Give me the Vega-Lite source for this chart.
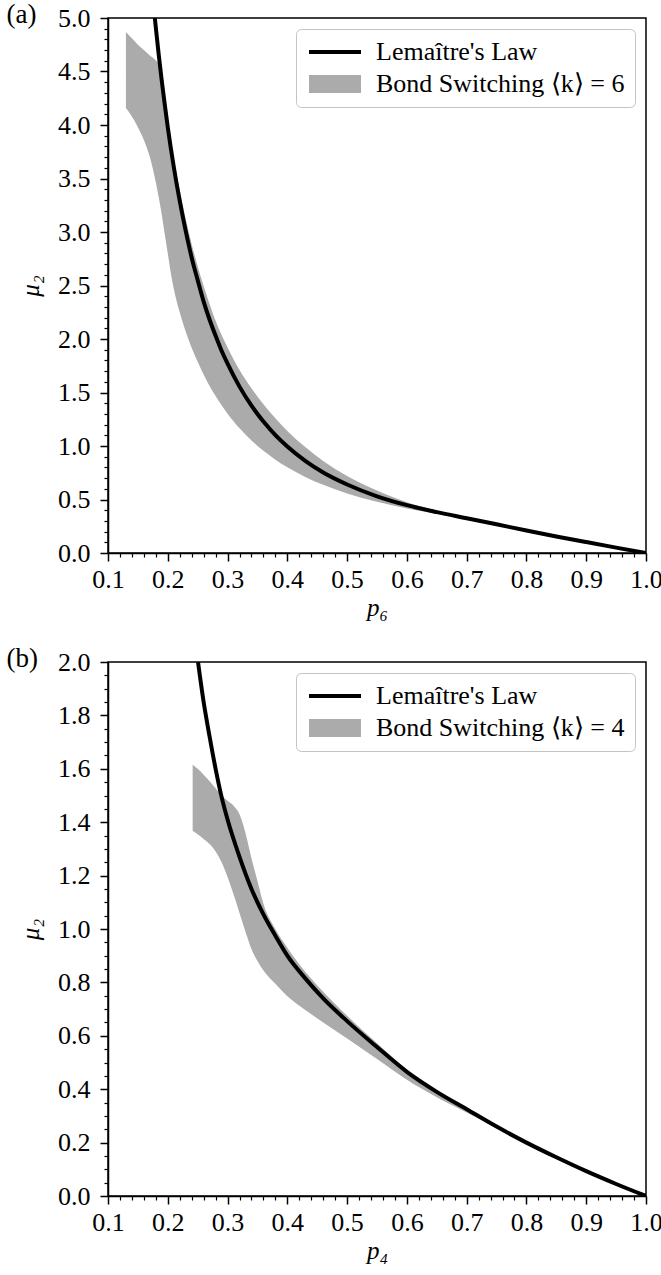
{
  "$schema": "https://vega.github.io/schema/vega-lite/v6.json",
  "background": "white",
  "padding": {"left": 5, "top": 0, "right": 0, "bottom": 0},
  "spacing": 23,
  "config": {
    "font": "Liberation Serif",
    "view": {"stroke": "black", "strokeWidth": 1.5},
    "axis": {
      "grid": false,
      "domainColor": "black",
      "domainWidth": 1.5,
      "tickColor": "black",
      "labelColor": "black",
      "titleColor": "black",
      "labelFont": "Liberation Serif",
      "titleFont": "Liberation Serif",
      "labelFontSize": 26,
      "titleFontSize": 25,
      "labelOverlap": false,
      "labelBound": false,
      "labelFlush": false
    },
    "legend": {
      "orient": "top-right", "offset": 11, "padding": 10, "fillColor": "white", "strokeColor": "#c4c4c4", "cornerRadius": 5,
      "labelFont": "Liberation Serif", "labelFontSize": 26, "labelLimit": 400, "labelColor": "black",
      "symbolSize": 400, "symbolOffset": 16, "labelOffset": 28, "rowPadding": 6, "symbolOpacity": 1, "symbolStrokeWidth": 0
    },
    "title": {"font": "Liberation Serif", "fontSize": 27, "fontWeight": "normal", "color": "black"}
  },
  "datasets": {
    "lineA": [
      {"p": 0.1784, "mu": 5.0, "s": "Lemaître's Law"},
      {"p": 0.18, "mu": 4.91, "s": "Lemaître's Law"},
      {"p": 0.185, "mu": 4.65, "s": "Lemaître's Law"},
      {"p": 0.19, "mu": 4.41, "s": "Lemaître's Law"},
      {"p": 0.195, "mu": 4.19, "s": "Lemaître's Law"},
      {"p": 0.2, "mu": 3.98, "s": "Lemaître's Law"},
      {"p": 0.21, "mu": 3.61, "s": "Lemaître's Law"},
      {"p": 0.22, "mu": 3.29, "s": "Lemaître's Law"},
      {"p": 0.23, "mu": 3.01, "s": "Lemaître's Law"},
      {"p": 0.24, "mu": 2.76, "s": "Lemaître's Law"},
      {"p": 0.25, "mu": 2.55, "s": "Lemaître's Law"},
      {"p": 0.26, "mu": 2.35, "s": "Lemaître's Law"},
      {"p": 0.27, "mu": 2.18, "s": "Lemaître's Law"},
      {"p": 0.28, "mu": 2.03, "s": "Lemaître's Law"},
      {"p": 0.29, "mu": 1.89, "s": "Lemaître's Law"},
      {"p": 0.3, "mu": 1.77, "s": "Lemaître's Law"},
      {"p": 0.32, "mu": 1.555, "s": "Lemaître's Law"},
      {"p": 0.34, "mu": 1.377, "s": "Lemaître's Law"},
      {"p": 0.36, "mu": 1.228, "s": "Lemaître's Law"},
      {"p": 0.38, "mu": 1.102, "s": "Lemaître's Law"},
      {"p": 0.4, "mu": 0.995, "s": "Lemaître's Law"},
      {"p": 0.43, "mu": 0.861, "s": "Lemaître's Law"},
      {"p": 0.46, "mu": 0.752, "s": "Lemaître's Law"},
      {"p": 0.5, "mu": 0.64, "s": "Lemaître's Law"},
      {"p": 0.55, "mu": 0.53, "s": "Lemaître's Law"},
      {"p": 0.6, "mu": 0.447, "s": "Lemaître's Law"},
      {"p": 0.65, "mu": 0.382, "s": "Lemaître's Law"},
      {"p": 0.7, "mu": 0.325, "s": "Lemaître's Law"},
      {"p": 0.75, "mu": 0.268, "s": "Lemaître's Law"},
      {"p": 0.8, "mu": 0.21, "s": "Lemaître's Law"},
      {"p": 0.85, "mu": 0.155, "s": "Lemaître's Law"},
      {"p": 0.9, "mu": 0.102, "s": "Lemaître's Law"},
      {"p": 0.95, "mu": 0.05, "s": "Lemaître's Law"},
      {"p": 1.0, "mu": 0.0, "s": "Lemaître's Law"}
    ],
    "bandA": [
      {"p": 0.13, "lo": 4.16, "hi": 4.87, "s": "Bond Switching ⟨k⟩ = 6"},
      {"p": 0.14, "lo": 4.08, "hi": 4.81, "s": "Bond Switching ⟨k⟩ = 6"},
      {"p": 0.15, "lo": 3.98, "hi": 4.75, "s": "Bond Switching ⟨k⟩ = 6"},
      {"p": 0.16, "lo": 3.86, "hi": 4.7, "s": "Bond Switching ⟨k⟩ = 6"},
      {"p": 0.17, "lo": 3.7, "hi": 4.65, "s": "Bond Switching ⟨k⟩ = 6"},
      {"p": 0.179, "lo": 3.49, "hi": 4.61, "s": "Bond Switching ⟨k⟩ = 6"},
      {"p": 0.185, "lo": 3.32, "hi": 4.56, "s": "Bond Switching ⟨k⟩ = 6"},
      {"p": 0.19, "lo": 3.16, "hi": 4.4, "s": "Bond Switching ⟨k⟩ = 6"},
      {"p": 0.195, "lo": 2.98, "hi": 4.2, "s": "Bond Switching ⟨k⟩ = 6"},
      {"p": 0.2, "lo": 2.8, "hi": 4.02, "s": "Bond Switching ⟨k⟩ = 6"},
      {"p": 0.205, "lo": 2.62, "hi": 3.85, "s": "Bond Switching ⟨k⟩ = 6"},
      {"p": 0.21, "lo": 2.47, "hi": 3.68, "s": "Bond Switching ⟨k⟩ = 6"},
      {"p": 0.22, "lo": 2.25, "hi": 3.39, "s": "Bond Switching ⟨k⟩ = 6"},
      {"p": 0.235, "lo": 1.99, "hi": 3.0, "s": "Bond Switching ⟨k⟩ = 6"},
      {"p": 0.25, "lo": 1.787, "hi": 2.68, "s": "Bond Switching ⟨k⟩ = 6"},
      {"p": 0.265, "lo": 1.613, "hi": 2.41, "s": "Bond Switching ⟨k⟩ = 6"},
      {"p": 0.28, "lo": 1.467, "hi": 2.17, "s": "Bond Switching ⟨k⟩ = 6"},
      {"p": 0.3, "lo": 1.302, "hi": 1.92, "s": "Bond Switching ⟨k⟩ = 6"},
      {"p": 0.32, "lo": 1.166, "hi": 1.71, "s": "Bond Switching ⟨k⟩ = 6"},
      {"p": 0.34, "lo": 1.052, "hi": 1.54, "s": "Bond Switching ⟨k⟩ = 6"},
      {"p": 0.36, "lo": 0.955, "hi": 1.39, "s": "Bond Switching ⟨k⟩ = 6"},
      {"p": 0.38, "lo": 0.872, "hi": 1.26, "s": "Bond Switching ⟨k⟩ = 6"},
      {"p": 0.4, "lo": 0.801, "hi": 1.14, "s": "Bond Switching ⟨k⟩ = 6"},
      {"p": 0.43, "lo": 0.711, "hi": 0.99, "s": "Bond Switching ⟨k⟩ = 6"},
      {"p": 0.46, "lo": 0.637, "hi": 0.86, "s": "Bond Switching ⟨k⟩ = 6"},
      {"p": 0.5, "lo": 0.557, "hi": 0.72, "s": "Bond Switching ⟨k⟩ = 6"},
      {"p": 0.55, "lo": 0.478, "hi": 0.585, "s": "Bond Switching ⟨k⟩ = 6"},
      {"p": 0.6, "lo": 0.417, "hi": 0.475, "s": "Bond Switching ⟨k⟩ = 6"},
      {"p": 0.65, "lo": 0.366, "hi": 0.396, "s": "Bond Switching ⟨k⟩ = 6"},
      {"p": 0.7, "lo": 0.32, "hi": 0.333, "s": "Bond Switching ⟨k⟩ = 6"},
      {"p": 0.73, "lo": 0.292, "hi": 0.294, "s": "Bond Switching ⟨k⟩ = 6"}
    ],
    "lineB": [
      {"p": 0.2506, "mu": 2.0, "s": "Lemaître's Law"},
      {"p": 0.26, "mu": 1.85, "s": "Lemaître's Law"},
      {"p": 0.27, "mu": 1.72, "s": "Lemaître's Law"},
      {"p": 0.28, "mu": 1.6, "s": "Lemaître's Law"},
      {"p": 0.29, "mu": 1.495, "s": "Lemaître's Law"},
      {"p": 0.3, "mu": 1.41, "s": "Lemaître's Law"},
      {"p": 0.32, "mu": 1.27, "s": "Lemaître's Law"},
      {"p": 0.34, "mu": 1.15, "s": "Lemaître's Law"},
      {"p": 0.36, "mu": 1.055, "s": "Lemaître's Law"},
      {"p": 0.38, "mu": 0.975, "s": "Lemaître's Law"},
      {"p": 0.4, "mu": 0.9, "s": "Lemaître's Law"},
      {"p": 0.43, "mu": 0.815, "s": "Lemaître's Law"},
      {"p": 0.46, "mu": 0.74, "s": "Lemaître's Law"},
      {"p": 0.5, "mu": 0.655, "s": "Lemaître's Law"},
      {"p": 0.55, "mu": 0.558, "s": "Lemaître's Law"},
      {"p": 0.6, "mu": 0.465, "s": "Lemaître's Law"},
      {"p": 0.65, "mu": 0.39, "s": "Lemaître's Law"},
      {"p": 0.7, "mu": 0.325, "s": "Lemaître's Law"},
      {"p": 0.75, "mu": 0.26, "s": "Lemaître's Law"},
      {"p": 0.8, "mu": 0.2, "s": "Lemaître's Law"},
      {"p": 0.85, "mu": 0.145, "s": "Lemaître's Law"},
      {"p": 0.9, "mu": 0.093, "s": "Lemaître's Law"},
      {"p": 0.95, "mu": 0.045, "s": "Lemaître's Law"},
      {"p": 1.0, "mu": 0.0, "s": "Lemaître's Law"}
    ],
    "bandB": [
      {"p": 0.2416, "lo": 1.368, "hi": 1.615, "s": "Bond Switching ⟨k⟩ = 4"},
      {"p": 0.25, "lo": 1.355, "hi": 1.6, "s": "Bond Switching ⟨k⟩ = 4"},
      {"p": 0.26, "lo": 1.337, "hi": 1.578, "s": "Bond Switching ⟨k⟩ = 4"},
      {"p": 0.27, "lo": 1.318, "hi": 1.553, "s": "Bond Switching ⟨k⟩ = 4"},
      {"p": 0.28, "lo": 1.29, "hi": 1.527, "s": "Bond Switching ⟨k⟩ = 4"},
      {"p": 0.29, "lo": 1.25, "hi": 1.5, "s": "Bond Switching ⟨k⟩ = 4"},
      {"p": 0.3, "lo": 1.195, "hi": 1.48, "s": "Bond Switching ⟨k⟩ = 4"},
      {"p": 0.31, "lo": 1.13, "hi": 1.462, "s": "Bond Switching ⟨k⟩ = 4"},
      {"p": 0.32, "lo": 1.06, "hi": 1.43, "s": "Bond Switching ⟨k⟩ = 4"},
      {"p": 0.33, "lo": 0.99, "hi": 1.36, "s": "Bond Switching ⟨k⟩ = 4"},
      {"p": 0.34, "lo": 0.925, "hi": 1.265, "s": "Bond Switching ⟨k⟩ = 4"},
      {"p": 0.35, "lo": 0.88, "hi": 1.18, "s": "Bond Switching ⟨k⟩ = 4"},
      {"p": 0.36, "lo": 0.845, "hi": 1.095, "s": "Bond Switching ⟨k⟩ = 4"},
      {"p": 0.38, "lo": 0.795, "hi": 1.0, "s": "Bond Switching ⟨k⟩ = 4"},
      {"p": 0.4, "lo": 0.748, "hi": 0.93, "s": "Bond Switching ⟨k⟩ = 4"},
      {"p": 0.43, "lo": 0.697, "hi": 0.84, "s": "Bond Switching ⟨k⟩ = 4"},
      {"p": 0.46, "lo": 0.65, "hi": 0.765, "s": "Bond Switching ⟨k⟩ = 4"},
      {"p": 0.5, "lo": 0.59, "hi": 0.675, "s": "Bond Switching ⟨k⟩ = 4"},
      {"p": 0.55, "lo": 0.513, "hi": 0.572, "s": "Bond Switching ⟨k⟩ = 4"},
      {"p": 0.6, "lo": 0.435, "hi": 0.474, "s": "Bond Switching ⟨k⟩ = 4"},
      {"p": 0.65, "lo": 0.37, "hi": 0.396, "s": "Bond Switching ⟨k⟩ = 4"},
      {"p": 0.7, "lo": 0.313, "hi": 0.33, "s": "Bond Switching ⟨k⟩ = 4"},
      {"p": 0.75, "lo": 0.255, "hi": 0.264, "s": "Bond Switching ⟨k⟩ = 4"},
      {"p": 0.78, "lo": 0.223, "hi": 0.225, "s": "Bond Switching ⟨k⟩ = 4"}
    ]
  },
  "resolve": {"scale": {"color": "independent", "shape": "independent"}, "legend": {"color": "independent", "shape": "independent"}},
  "vconcat": [
    {
      "title": {"text": "(a)", "anchor": "start", "frame": "bounds", "offset": 0, "dx": -12, "dy": 37, "baseline": "middle", "font": "Liberation Serif", "fontSize": 27},
      "width": 538,
      "height": 535,
      "layer": [
        {
          "data": {"name": "bandA"},
          "mark": {"type": "area", "interpolate": "monotone", "opacity": 1},
          "encoding": {
            "x": {"field": "p", "type": "quantitative", "scale": {"domain": [0.1, 1.0], "nice": false, "zero": false},
              "axis": {"orient": "bottom", "values": [0.1, 0.2, 0.3, 0.4, 0.5, 0.6, 0.7, 0.8, 0.9, 1.0], "format": ".1f", "tickSize": 8, "tickWidth": 1.5, "labelPadding": 5, "title": "p₆", "titleFontStyle": "italic", "titleFontWeight": "normal", "titlePadding": 3}},
            "y": {"field": "lo", "type": "quantitative", "scale": {"domain": [0, 5], "nice": false},
              "axis": {"orient": "left", "values": [0, 0.5, 1, 1.5, 2, 2.5, 3, 3.5, 4, 4.5, 5], "format": ".1f", "tickSize": 8, "tickWidth": 1.5, "labelPadding": 10, "title": "μ₂", "titleFontStyle": "italic", "titleFontWeight": "normal", "titlePadding": 14}},
            "y2": {"field": "hi"},
            "color": {"field": "s", "type": "nominal",
              "scale": {"domain": ["Lemaître's Law", "Bond Switching ⟨k⟩ = 6"], "range": ["black", "#ababab"]},
              "legend": {"title": null}}
          }
        },
        {
          "data": {"name": "lineA"},
          "mark": {"type": "line", "strokeWidth": 4, "interpolate": "monotone", "clip": true},
          "encoding": {
            "x": {"field": "p", "type": "quantitative",
              "axis": {"orient": "bottom", "values": [0.12, 0.14, 0.16, 0.18, 0.22, 0.24, 0.26, 0.28, 0.32, 0.34, 0.36, 0.38, 0.42, 0.44, 0.46, 0.48, 0.52, 0.54, 0.56, 0.58, 0.62, 0.64, 0.66, 0.68, 0.72, 0.74, 0.76, 0.78, 0.82, 0.84, 0.86, 0.88, 0.92, 0.94, 0.96, 0.98], "labels": false, "domain": false, "tickSize": 4, "tickWidth": 1.2, "title": null}},
            "y": {"field": "mu", "type": "quantitative",
              "axis": {"orient": "left", "values": [0.1, 0.2, 0.3, 0.4, 0.6, 0.7, 0.8, 0.9, 1.1, 1.2, 1.3, 1.4, 1.6, 1.7, 1.8, 1.9, 2.1, 2.2, 2.3, 2.4, 2.6, 2.7, 2.8, 2.9, 3.1, 3.2, 3.3, 3.4, 3.6, 3.7, 3.8, 3.9, 4.1, 4.2, 4.3, 4.4, 4.6, 4.7, 4.8, 4.9], "labels": false, "domain": false, "tickSize": 4, "tickWidth": 1.2, "title": null}},
            "color": {"field": "s", "type": "nominal", "legend": {"title": null}}
          }
        },
        {
          "data": {"name": "lineA"},
          "mark": {"type": "point", "filled": true, "opacity": 0},
          "encoding": {
            "x": {"field": "p", "type": "quantitative", "axis": null},
            "y": {"field": "mu", "type": "quantitative", "axis": null},
            "color": {"field": "s", "type": "nominal", "legend": {"title": null}},
            "shape": {"field": "s", "type": "nominal",
              "scale": {"domain": ["Lemaître's Law", "Bond Switching ⟨k⟩ = 6"], "range": ["M-2.6,-0.2H2.6V0.2H-2.6Z", "M-2.6,-0.9H2.6V0.9H-2.6Z"]},
              "legend": {"title": null}}
          }
        }
      ],
      "resolve": {"axis": {"x": "independent", "y": "independent"}}
    },
    {
      "title": {"text": "(b)", "anchor": "start", "frame": "bounds", "offset": 0, "dx": -12, "dy": 37, "baseline": "middle", "font": "Liberation Serif", "fontSize": 27},
      "width": 538,
      "height": 534,
      "layer": [
        {
          "data": {"name": "bandB"},
          "mark": {"type": "area", "interpolate": "monotone", "opacity": 1},
          "encoding": {
            "x": {"field": "p", "type": "quantitative", "scale": {"domain": [0.1, 1.0], "nice": false, "zero": false},
              "axis": {"orient": "bottom", "values": [0.1, 0.2, 0.3, 0.4, 0.5, 0.6, 0.7, 0.8, 0.9, 1.0], "format": ".1f", "tickSize": 8, "tickWidth": 1.5, "labelPadding": 5, "title": "p₄", "titleFontStyle": "italic", "titleFontWeight": "normal", "titlePadding": 3}},
            "y": {"field": "lo", "type": "quantitative", "scale": {"domain": [0, 2], "nice": false},
              "axis": {"orient": "left", "values": [0, 0.2, 0.4, 0.6, 0.8, 1.0, 1.2, 1.4, 1.6, 1.8, 2.0], "format": ".1f", "tickSize": 8, "tickWidth": 1.5, "labelPadding": 10, "title": "μ₂", "titleFontStyle": "italic", "titleFontWeight": "normal", "titlePadding": 14}},
            "y2": {"field": "hi"},
            "color": {"field": "s", "type": "nominal",
              "scale": {"domain": ["Lemaître's Law", "Bond Switching ⟨k⟩ = 4"], "range": ["black", "#ababab"]},
              "legend": {"title": null}}
          }
        },
        {
          "data": {"name": "lineB"},
          "mark": {"type": "line", "strokeWidth": 4, "interpolate": "monotone", "clip": true},
          "encoding": {
            "x": {"field": "p", "type": "quantitative",
              "axis": {"orient": "bottom", "values": [0.12, 0.14, 0.16, 0.18, 0.22, 0.24, 0.26, 0.28, 0.32, 0.34, 0.36, 0.38, 0.42, 0.44, 0.46, 0.48, 0.52, 0.54, 0.56, 0.58, 0.62, 0.64, 0.66, 0.68, 0.72, 0.74, 0.76, 0.78, 0.82, 0.84, 0.86, 0.88, 0.92, 0.94, 0.96, 0.98], "labels": false, "domain": false, "tickSize": 4, "tickWidth": 1.2, "title": null}},
            "y": {"field": "mu", "type": "quantitative",
              "axis": {"orient": "left", "values": [0.05, 0.1, 0.15, 0.25, 0.3, 0.35, 0.45, 0.5, 0.55, 0.65, 0.7, 0.75, 0.85, 0.9, 0.95, 1.05, 1.1, 1.15, 1.25, 1.3, 1.35, 1.45, 1.5, 1.55, 1.65, 1.7, 1.75, 1.85, 1.9, 1.95], "labels": false, "domain": false, "tickSize": 4, "tickWidth": 1.2, "title": null}},
            "color": {"field": "s", "type": "nominal", "legend": {"title": null}}
          }
        },
        {
          "data": {"name": "lineB"},
          "mark": {"type": "point", "filled": true, "opacity": 0},
          "encoding": {
            "x": {"field": "p", "type": "quantitative", "axis": null},
            "y": {"field": "mu", "type": "quantitative", "axis": null},
            "color": {"field": "s", "type": "nominal", "legend": {"title": null}},
            "shape": {"field": "s", "type": "nominal",
              "scale": {"domain": ["Lemaître's Law", "Bond Switching ⟨k⟩ = 4"], "range": ["M-2.6,-0.2H2.6V0.2H-2.6Z", "M-2.6,-0.9H2.6V0.9H-2.6Z"]},
              "legend": {"title": null}}
          }
        }
      ],
      "resolve": {"axis": {"x": "independent", "y": "independent"}}
    }
  ]
}
